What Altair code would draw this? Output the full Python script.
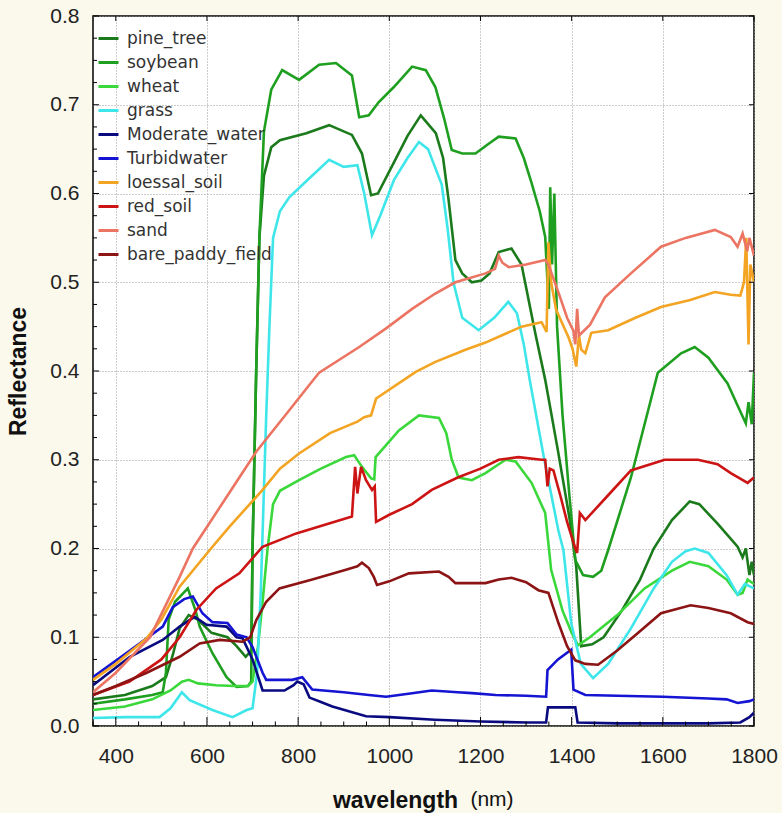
import altair as alt
import pandas as pd

series_names = ["pine_tree", "soybean", "wheat", "grass", "Moderate_water", "Turbidwater",
                "loessal_soil", "red_soil", "sand", "bare_paddy_field"]
series_colors = ["#1b7a1b", "#1f9f1f", "#3ad83a", "#3ee6ea", "#0a0a80", "#1414d2",
                 "#f2a422", "#cc1414", "#ec7462", "#8c1414"]

pine_wl = [350, 420, 480, 510, 525, 540, 560, 580, 610, 645, 665, 685, 697, 700, 708, 715, 725, 741, 760, 818,
           868, 918, 940, 960, 975, 1000, 1040, 1069, 1102, 1118, 1130, 1145, 1160, 1181, 1202, 1220, 1240, 1268, 1290, 1320,
           1342, 1370, 1395, 1410, 1421, 1445, 1470, 1510, 1550, 1580, 1620, 1659, 1680, 1720, 1764, 1775, 1782, 1790, 1795, 1800]
pine_r = [0.030, 0.035, 0.045, 0.055, 0.080, 0.110, 0.125, 0.120, 0.105, 0.100, 0.090, 0.078, 0.085, 0.20, 0.40, 0.55, 0.62, 0.652, 0.660, 0.668,
          0.677, 0.666, 0.645, 0.598, 0.600, 0.625, 0.665, 0.688, 0.668, 0.640, 0.593, 0.525, 0.510, 0.500, 0.502, 0.510, 0.534, 0.538, 0.520, 0.443,
          0.390, 0.310, 0.235, 0.180, 0.090, 0.092, 0.100, 0.130, 0.165, 0.200, 0.232, 0.253, 0.250, 0.228, 0.202, 0.190, 0.200, 0.170, 0.185, 0.170]

soy_wl = [350, 420, 480, 503, 510, 516, 530, 545, 558, 575, 584, 612, 643, 665, 690, 697, 700, 708, 715, 725,
          741, 765, 802, 846, 883, 918, 934, 955, 977, 1010, 1050, 1080, 1101, 1120, 1137, 1160, 1189, 1215, 1240, 1277,
          1295, 1312, 1330, 1342, 1350, 1353, 1357, 1362, 1368, 1380, 1395, 1408, 1425, 1447, 1465, 1480, 1530, 1589, 1640, 1670,
          1700, 1742, 1765, 1782, 1788, 1795, 1800]
soy_r = [0.025, 0.030, 0.035, 0.038, 0.060, 0.120, 0.140, 0.148, 0.155, 0.130, 0.112, 0.082, 0.055, 0.044, 0.045, 0.050, 0.20, 0.40, 0.55, 0.67,
         0.717, 0.739, 0.728, 0.745, 0.747, 0.733, 0.686, 0.688, 0.703, 0.720, 0.743, 0.739, 0.720, 0.685, 0.649, 0.645, 0.645, 0.655, 0.664, 0.662,
         0.640, 0.612, 0.580, 0.551, 0.470, 0.607, 0.520, 0.600, 0.450, 0.350, 0.260, 0.187, 0.170, 0.168, 0.175, 0.198, 0.280, 0.398, 0.420, 0.427,
         0.415, 0.386, 0.360, 0.341, 0.365, 0.340, 0.398]

wheat_wl = [350, 420, 480, 520, 545, 560, 580, 620, 660, 690, 700, 712, 722, 733, 745, 760, 802, 850, 905, 923,
            940, 960, 967, 970, 1021, 1065, 1109, 1125, 1137, 1152, 1181, 1211, 1255, 1277, 1312, 1342, 1355, 1380, 1400, 1414,
            1440, 1500, 1560, 1620, 1659, 1700, 1740, 1764, 1775, 1786, 1800]
wheat_r = [0.018, 0.022, 0.030, 0.040, 0.050, 0.052, 0.048, 0.046, 0.045, 0.045, 0.050, 0.090, 0.140, 0.200, 0.250, 0.265, 0.277, 0.290, 0.303, 0.305,
           0.292, 0.279, 0.278, 0.303, 0.333, 0.350, 0.347, 0.330, 0.300, 0.280, 0.277, 0.285, 0.300, 0.298, 0.274, 0.240, 0.176, 0.130, 0.105, 0.091,
           0.100, 0.125, 0.155, 0.175, 0.185, 0.180, 0.165, 0.148, 0.150, 0.165, 0.160]

grass_wl = [350, 420, 496, 520, 545, 562, 612, 656, 687, 700, 710, 718, 724, 730, 737, 745, 760, 781, 820, 868,
            900, 930, 945, 962, 980, 1010, 1040, 1065, 1085, 1100, 1115, 1128, 1141, 1160, 1196, 1230, 1261, 1280, 1295, 1308,
            1340, 1371, 1382, 1399, 1420, 1447, 1480, 1530, 1580, 1620, 1650, 1670, 1700, 1740, 1764, 1780, 1800]
grass_r = [0.009, 0.010, 0.010, 0.020, 0.038, 0.029, 0.018, 0.010, 0.018, 0.020, 0.060, 0.150, 0.250, 0.350, 0.450, 0.550, 0.580, 0.596, 0.615, 0.638,
           0.630, 0.632, 0.600, 0.553, 0.575, 0.615, 0.640, 0.658, 0.650, 0.630, 0.610, 0.560, 0.499, 0.460, 0.446, 0.460, 0.478, 0.465, 0.430, 0.390,
           0.300, 0.220, 0.198, 0.116, 0.070, 0.054, 0.070, 0.110, 0.155, 0.185, 0.197, 0.200, 0.195, 0.170, 0.148, 0.160, 0.155]

mw_wl = [350, 431, 503, 540, 573, 599, 643, 665, 678, 700, 722, 770, 790, 798, 812, 825, 850, 875, 949, 1000,
         1100, 1200, 1300, 1344, 1348, 1408, 1413, 1500, 1600, 1700, 1770, 1790, 1800]
mw_r = [0.046, 0.078, 0.097, 0.112, 0.123, 0.114, 0.112, 0.100, 0.099, 0.075, 0.040, 0.040, 0.046, 0.050, 0.047, 0.032, 0.027, 0.022, 0.011, 0.010,
        0.007, 0.005, 0.004, 0.004, 0.021, 0.021, 0.004, 0.003, 0.003, 0.003, 0.004, 0.010, 0.015]

tw_wl = [350, 431, 503, 525, 550, 569, 590, 612, 645, 665, 687, 700, 722, 730, 787, 809, 831, 900, 955, 993,
         1050, 1093, 1150, 1181, 1233, 1300, 1344, 1347, 1370, 1399, 1404, 1430, 1500, 1600, 1700, 1740, 1764, 1790, 1800]
tw_r = [0.055, 0.085, 0.112, 0.134, 0.143, 0.146, 0.127, 0.117, 0.116, 0.103, 0.100, 0.089, 0.060, 0.052, 0.052, 0.055, 0.041, 0.038, 0.035, 0.033,
        0.037, 0.040, 0.038, 0.037, 0.035, 0.034, 0.033, 0.063, 0.075, 0.086, 0.041, 0.035, 0.034, 0.033, 0.031, 0.030, 0.026, 0.028, 0.030]

lo_wl = [350, 400, 468, 500, 540, 612, 650, 722, 760, 802, 870, 930, 945, 960, 971, 1058, 1100, 1167, 1211, 1290,
         1334, 1345, 1349, 1355, 1366, 1393, 1402, 1410, 1416, 1421, 1430, 1443, 1480, 1540, 1596, 1660, 1714, 1749, 1770, 1778,
         1783, 1788, 1792, 1800]
lo_r = [0.052, 0.070, 0.099, 0.120, 0.157, 0.202, 0.225, 0.266, 0.290, 0.307, 0.330, 0.343, 0.348, 0.350, 0.369, 0.399, 0.410, 0.424, 0.432, 0.450,
        0.455, 0.444, 0.545, 0.500, 0.469, 0.438, 0.425, 0.405, 0.440, 0.424, 0.420, 0.443, 0.446, 0.460, 0.472, 0.480, 0.489, 0.486, 0.485, 0.500,
        0.550, 0.430, 0.520, 0.500]

sand_wl = [350, 400, 475, 540, 569, 634, 708, 781, 824, 846, 934, 993, 1050, 1100, 1145, 1211, 1232, 1240, 1248, 1262,
           1300, 1342, 1349, 1370, 1390, 1404, 1408, 1412, 1416, 1440, 1473, 1530, 1596, 1650, 1714, 1749, 1764, 1775, 1785, 1790,
           1800]
sand_r = [0.038, 0.060, 0.100, 0.168, 0.200, 0.251, 0.309, 0.356, 0.384, 0.398, 0.427, 0.448, 0.470, 0.487, 0.500, 0.510, 0.515, 0.530, 0.522, 0.517,
          0.520, 0.525, 0.520, 0.490, 0.460, 0.445, 0.430, 0.470, 0.440, 0.452, 0.483, 0.510, 0.540, 0.550, 0.559, 0.551, 0.540, 0.555, 0.535, 0.550,
          0.530]

red_wl = [350, 430, 500, 540, 577, 620, 671, 722, 796, 918, 925, 930, 938, 949, 962, 968, 971, 1000, 1050, 1093,
          1150, 1200, 1240, 1283, 1334, 1342, 1347, 1352, 1360, 1375, 1390, 1408, 1412, 1418, 1430, 1480, 1530, 1604, 1677, 1720,
          1749, 1786, 1800]
red_r = [0.035, 0.050, 0.075, 0.100, 0.131, 0.155, 0.172, 0.202, 0.217, 0.236, 0.292, 0.262, 0.292, 0.277, 0.266, 0.270, 0.230, 0.238, 0.250, 0.266,
         0.280, 0.290, 0.300, 0.303, 0.300, 0.300, 0.270, 0.290, 0.288, 0.260, 0.230, 0.200, 0.195, 0.240, 0.232, 0.260, 0.288, 0.300, 0.300, 0.295,
         0.285, 0.274, 0.280]

pad_wl = [350, 400, 468, 540, 584, 628, 678, 695, 708, 730, 759, 831, 905, 930, 940, 955, 966, 973, 1000, 1043,
          1109, 1130, 1145, 1211, 1240, 1268, 1300, 1327, 1349, 1371, 1390, 1408, 1430, 1458, 1500, 1546, 1596, 1661, 1700, 1749,
          1786, 1800]
pad_r = [0.035, 0.045, 0.060, 0.078, 0.093, 0.097, 0.095, 0.100, 0.119, 0.140, 0.155, 0.165, 0.176, 0.180, 0.184, 0.178, 0.168, 0.159, 0.163, 0.172,
         0.174, 0.168, 0.161, 0.161, 0.165, 0.167, 0.162, 0.153, 0.150, 0.116, 0.090, 0.074, 0.070, 0.069, 0.085, 0.105, 0.127, 0.136, 0.133, 0.127,
         0.117, 0.115]

x_ticks = [400, 600, 800, 1000, 1200, 1400, 1600, 1800]
y_ticks = [0.0, 0.1, 0.2, 0.3, 0.4, 0.5, 0.6, 0.7, 0.8]

# ---- build long table ----
all_series = [
    ("pine_tree", pine_wl, pine_r), ("soybean", soy_wl, soy_r), ("wheat", wheat_wl, wheat_r),
    ("grass", grass_wl, grass_r), ("Moderate_water", mw_wl, mw_r), ("Turbidwater", tw_wl, tw_r),
    ("loessal_soil", lo_wl, lo_r), ("red_soil", red_wl, red_r), ("sand", sand_wl, sand_r),
    ("bare_paddy_field", pad_wl, pad_r),
]
rows = []
for name, wls, rs in all_series:
    for i, (w, r) in enumerate(zip(wls, rs)):
        rows.append({"series": name, "wl": w, "r": r, "idx": i})
df = pd.DataFrame(rows)

W, H = 661, 710
XMIN, XMAX, YMIN, YMAX = 350, 1800, 0.0, 0.8
px_x = (XMAX - XMIN) / W
px_y = (YMAX - YMIN) / H

# inward tick marks (as small rules in data space)
tick_rows = []
for w in range(350, 1801, 50):
    ln = 9 if w % 200 == 0 else 4.5
    tick_rows.append({"wl": w, "wl2": w, "r": 0.0, "r2": ln * px_y})
for w in x_ticks:
    tick_rows.append({"wl": w, "wl2": w, "r": YMAX, "r2": YMAX - 5 * px_y})
for k in range(0, 33):
    v = k * 0.025
    ln = 6 if k % 4 == 0 else 4
    tick_rows.append({"wl": XMIN, "wl2": XMIN + ln * px_x, "r": v, "r2": v})
for v in y_ticks:
    tick_rows.append({"wl": XMAX - 5 * px_x, "wl2": XMAX, "r": v, "r2": v})
ticks_df = pd.DataFrame(tick_rows)

xscale = alt.Scale(domain=[XMIN, XMAX], nice=False, zero=False)
yscale = alt.Scale(domain=[YMIN, YMAX], nice=False, zero=False)

x_axis = alt.Axis(values=x_ticks, title="wavelength", format="d",
                  labelFont="Liberation Sans", labelFontSize=21, labelColor="#222",
                  labelPadding=19, labelFlush=False, labelOverlap=False,
                  titleFont="Liberation Sans", titleFontSize=23, titleFontWeight="bold",
                  titleColor="#111", titleX=302, titleY=74, titleAlign="center",
                  titleBaseline="middle", titleAnchor="start",
                  domain=False, ticks=False, tickSize=0, grid=True,
                  gridColor="#999999", gridDash=[1, 2], gridWidth=1, gridOpacity=1)
y_axis = alt.Axis(values=y_ticks, format=".1f", title="Reflectance",
                  labelFont="Liberation Sans", labelFontSize=21, labelColor="#222",
                  labelPadding=14, labelFlush=False, labelOverlap=False,
                  titleFont="Liberation Sans", titleFontSize=23, titleFontWeight="bold",
                  titleColor="#111", titleX=-75, titleY=355, titleAngle=270,
                  titleAlign="center", titleBaseline="middle", titleAnchor="start",
                  domain=False, ticks=False, tickSize=0, grid=True,
                  gridColor="#999999", gridDash=[1, 2], gridWidth=1, gridOpacity=1)

lines = alt.Chart(df).mark_line(strokeWidth=2.6, clip=True).encode(
    x=alt.X("wl:Q", scale=xscale, axis=x_axis),
    y=alt.Y("r:Q", scale=yscale, axis=y_axis),
    color=alt.Color("series:N", sort=series_names,
                    scale=alt.Scale(domain=series_names, range=series_colors),
                    legend=alt.Legend(title=None, orient="none", legendX=4, legendY=11,
                                      symbolType="stroke", symbolSize=400, symbolStrokeWidth=3,
                                      labelFont="DejaVu Sans", labelFontSize=17, labelColor="#333",
                                      labelOffset=7, rowPadding=4, padding=0, labelLimit=300)),
    order="idx:Q",
)

ticks = alt.Chart(ticks_df).mark_rule(color="black", strokeWidth=1).encode(
    x=alt.X("wl:Q", scale=xscale, axis=x_axis),
    x2="wl2:Q",
    y=alt.Y("r:Q", scale=yscale, axis=y_axis),
    y2="r2:Q",
)

nm_text = alt.Chart(pd.DataFrame({"t": ["(nm)"]})).mark_text(
    font="Liberation Sans", fontSize=21, color="#111", align="center", baseline="middle"
).encode(x=alt.value(399), y=alt.value(784), text="t:N")

chart = alt.layer(lines, ticks, nm_text).properties(
    width=W, height=H,
    background="#fbf8ec",
    padding={"left": 93, "top": 16, "right": 28, "bottom": 87},
    autosize=alt.AutoSizeParams(type="none"),
).configure_view(
    fill="white", stroke="black", strokeWidth=1.5
)

chart.save("out.html", embed_options={"renderer": "svg", "actions": False})
